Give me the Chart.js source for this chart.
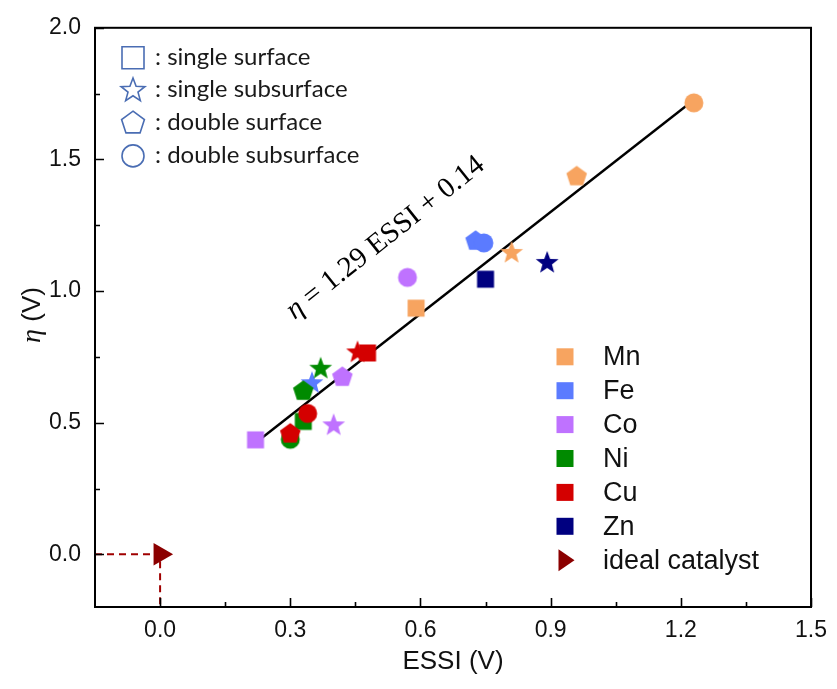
<!DOCTYPE html>
<html>
<head>
<meta charset="utf-8">
<script src="https://cdn.jsdelivr.net/npm/chart.js@4.4.1/dist/chart.umd.min.js"></script>
<style>
  html, body { margin: 0; background: #fff; }
  #c { display: block; }
</style>
</head>
<body>
<canvas id="c" width="837" height="689"></canvas>
<script>
// ── DATA ──
const shapes     = ['square', 'star', 'pentagon', 'circle'];
const shapeNames = [': single surface', ': single subsurface', ': double surface', ': double subsurface'];

const elements      = ['Mn', 'Fe', 'Co', 'Ni', 'Cu', 'Zn'];
const elementColors = ['#F7A460', '#5B7BFF', '#BF72FF', '#008A00', '#D40000', '#000080'];

// ESSI (V) and overpotential (V), listed in `shapes` order; null = no value
const essiMn = [0.59, 0.81, 0.96, 1.23];
const etaMn  = [0.935, 1.145, 1.435, 1.715];
const essiFe = [null, 0.35, 0.727, 0.746];
const etaFe  = [null, 0.65, 1.19, 1.183];
const essiCo = [0.22, 0.40, 0.42, 0.57];
const etaCo  = [0.435, 0.49, 0.673, 1.052];
const essiNi = [0.33, 0.37, 0.33, 0.30];
const etaNi  = [0.505, 0.705, 0.62, 0.437];
const essiCu = [0.478, 0.455, 0.30, 0.34];
const etaCu  = [0.765, 0.767, 0.458, 0.535];
const essiZn = [0.75, 0.892, null, null];
const etaZn  = [1.045, 1.107, null, null];

const idealEssi = [0];
const idealEta  = [0];
const guideEssi = [-0.15, 0, 0];
const guideEta  = [0, 0, -0.2];

// linear fit  eta = 1.29 ESSI + 0.14, end points
const fitEssi = [0.235, 1.215];
const fitEta  = [0.443, 1.707];

const xTicks = [0, 0.3, 0.6, 0.9, 1.2, 1.5];
const xMinor = [0.15, 0.45, 0.75, 1.05, 1.35];
const yTicks = [0, 0.5, 1.0, 1.5, 2.0];
const yMinor = [0.25, 0.75, 1.25, 1.75];

// ── MARKERS ──
const SANS  = "'Liberation Sans', Arial, sans-serif";
const SERIF = "'Liberation Serif', 'Times New Roman', serif";
const DOT = { square: 8.5, circle: 9.5, star: 12, pentagon: 10.8 };
const KEY = { square: 11, circle: 11, star: 12.5, pentagon: 12 };

function shapePath(ctx, shape, cx, cy, r) {
  ctx.beginPath();
  if (shape === 'square') {
    ctx.rect(cx - r, cy - r, 2 * r, 2 * r);
  } else if (shape === 'circle') {
    ctx.arc(cx, cy, r, 0, Math.PI * 2);
  } else if (shape === 'star') {
    const ri = r * 0.42;
    for (let i = 0; i < 10; i++) {
      const rr = i % 2 ? ri : r;
      const a = -Math.PI / 2 + i * Math.PI / 5;
      const px = cx + rr * Math.cos(a), py = cy + rr * Math.sin(a);
      i ? ctx.lineTo(px, py) : ctx.moveTo(px, py);
    }
    ctx.closePath();
  } else if (shape === 'pentagon') {
    for (let i = 0; i < 5; i++) {
      const a = -Math.PI / 2 + i * 2 * Math.PI / 5;
      const px = cx + r * Math.cos(a), py = cy + r * Math.sin(a);
      i ? ctx.lineTo(px, py) : ctx.moveTo(px, py);
    }
    ctx.closePath();
  }
}

const markerCache = {};
function marker(shape, color) {
  const key = shape + color;
  if (markerCache[key]) return markerCache[key];
  const cv = document.createElement('canvas');
  cv.width = cv.height = 28;
  const g = cv.getContext('2d');
  shapePath(g, shape, 14, 14, DOT[shape]);
  g.fillStyle = color;
  g.fill();
  return (markerCache[key] = cv);
}

function points(essi, eta) {
  return shapes.map((s, i) => ({ x: essi[i], y: eta[i], s })).filter(p => p.x != null);
}

const series = [
  [essiMn, etaMn], [essiFe, etaFe], [essiCo, etaCo],
  [essiNi, etaNi], [essiCu, etaCu], [essiZn, etaZn]
];
// Cu on top, then Ni, Fe, Co, Mn, Zn
const drawOrder = { Mn: 6, Fe: 4, Co: 5, Ni: 3, Cu: 2, Zn: 7 };

const datasets = elements.map((name, k) => ({
  label: name,
  data: points(series[k][0], series[k][1]),
  pointStyle: c => marker(c.raw.s, elementColors[k]),
  order: drawOrder[name],
  showLine: false
}));

datasets.push({
  label: 'fit',
  data: fitEssi.map((v, i) => ({ x: v, y: fitEta[i] })),
  showLine: true, borderColor: '#000', borderWidth: 2.4,
  pointRadius: 0, order: 9
});
datasets.push({
  label: 'guide',
  data: guideEssi.map((v, i) => ({ x: v, y: guideEta[i] })),
  showLine: true, borderColor: '#A00000', borderWidth: 2,
  borderDash: [7, 5], pointRadius: 0, order: 1
});
datasets.push({
  label: 'ideal catalyst',
  data: idealEssi.map((v, i) => ({ x: v, y: idealEta[i] })),
  pointStyle: 'triangle', rotation: 90, pointRadius: 13,
  backgroundColor: '#8B0000', borderColor: '#8B0000', borderWidth: 0,
  order: 0
});

// ── FRAME, TICKS, KEYS, LABELS ──
const decorations = {
  id: 'decorations',
  afterDraw(chart) {
    const { ctx, chartArea: a, scales: { x, y } } = chart;
    ctx.save();

    ctx.strokeStyle = '#000';
    ctx.lineWidth = 2;
    ctx.strokeRect(a.left, a.top, a.right - a.left, a.bottom - a.top);

    ctx.lineWidth = 1.6;
    ctx.beginPath();
    const tick = (vals, len, axis) => vals.forEach(v => {
      if (axis === 'x') {
        const px = Math.round(x.getPixelForValue(v)) + 0.5;
        ctx.moveTo(px, a.bottom); ctx.lineTo(px, a.bottom - len);
      } else {
        const py = Math.round(y.getPixelForValue(v)) + 0.5;
        ctx.moveTo(a.left, py); ctx.lineTo(a.left + len, py);
      }
    });
    tick(xTicks, 9, 'x'); tick(xMinor, 5, 'x');
    tick(yTicks, 9, 'y'); tick(yMinor, 5, 'y');
    ctx.stroke();

    // shape key, top left
    ctx.strokeStyle = '#4A6DB3';
    ctx.lineWidth = 1.6;
    ctx.fillStyle = '#1a1a1a';
    ctx.font = "24px Lato, 'Open Sans', sans-serif";
    ctx.textBaseline = 'middle';
    ctx.textAlign = 'left';
    shapes.forEach((s, i) => {
      const cy = a.top + 30 + i * 32.7;
      shapePath(ctx, s, a.left + 38, cy, KEY[s]);
      ctx.stroke();
      ctx.fillText(shapeNames[i], a.left + 60, cy - 1);
    });

    // element key, bottom right
    ctx.font = '27px ' + SANS;
    ctx.fillStyle = '#111';
    const kx = a.left + 470, ky = a.top + 329;
    elements.forEach((name, i) => {
      const cy = ky + i * 33.9;
      ctx.fillStyle = elementColors[i];
      ctx.fillRect(kx - 8.5, cy - 8.5, 17, 17);
      ctx.fillStyle = '#111';
      ctx.fillText(name, kx + 38, cy + 1);
    });
    const ty = ky + 6 * 33.9;
    ctx.fillStyle = '#8B0000';
    ctx.beginPath();
    ctx.moveTo(kx + 9.5, ty);
    ctx.lineTo(kx - 6.5, ty - 11);
    ctx.lineTo(kx - 6.5, ty + 11);
    ctx.closePath();
    ctx.fill();
    ctx.fillStyle = '#111';
    ctx.fillText('ideal catalyst', kx + 38, ty + 1);

    // fit equation along the line
    ctx.save();
    ctx.translate(x.getPixelForValue(0.31), y.getPixelForValue(0.89));
    ctx.rotate(-38.5 * Math.PI / 180);
    ctx.textBaseline = 'alphabetic';
    ctx.fillStyle = '#000';
    ctx.font = 'italic 29px ' + SERIF;
    ctx.fillText('η', 0, 0);
    const w0 = ctx.measureText('η').width;
    ctx.font = '29px ' + SERIF;
    ctx.fillText(' = 1.29 ESSI + 0.14', w0, 0);
    ctx.restore();

    // axis titles
    ctx.fillStyle = '#111';
    ctx.textBaseline = 'middle';
    ctx.font = '26px ' + SANS;
    ctx.textAlign = 'center';
    ctx.fillText('ESSI (V)', (a.left + a.right) / 2, 662);

    ctx.save();
    ctx.translate(33, 315);
    ctx.rotate(-Math.PI / 2);
    ctx.textAlign = 'left';
    ctx.font = 'italic 28px ' + SERIF;
    const wEta = ctx.measureText('η').width;
    ctx.font = '26px ' + SANS;
    const wRest = ctx.measureText(' (V)').width;
    const start = -(wEta + wRest) / 2;
    ctx.font = 'italic 28px ' + SERIF;
    ctx.fillText('η', start, 0);
    ctx.font = '26px ' + SANS;
    ctx.fillText(' (V)', start + wEta, 0);
    ctx.restore();

    ctx.restore();
  }
};

const tickFont = { family: SANS, size: 23 };

new Chart(document.getElementById('c'), {
  type: 'scatter',
  data: { datasets },
  options: {
    responsive: false,
    animation: false,
    layout: { padding: { top: 25, right: 19, left: 0, bottom: 0 } },
    plugins: { legend: { display: false }, tooltip: { enabled: false } },
    scales: {
      x: {
        type: 'linear', min: -0.15, max: 1.5,
        afterFit: s => { s.height = 82; },
        afterBuildTicks: s => { s.ticks = xTicks.map(v => ({ value: v })); },
        grid: { display: false, drawTicks: false },
        border: { display: false },
        ticks: { color: '#111', font: tickFont, padding: 10, maxRotation: 0, autoSkip: false,
                 callback: v => v.toFixed(1) }
      },
      y: {
        type: 'linear', min: -0.2, max: 2.0,
        afterFit: s => { s.width = 95; },
        afterBuildTicks: s => { s.ticks = yTicks.map(v => ({ value: v })); },
        grid: { display: false, drawTicks: false },
        border: { display: false },
        ticks: { color: '#111', font: tickFont, padding: 14, autoSkip: false,
                 callback: v => v.toFixed(1) }
      }
    }
  },
  plugins: [decorations]
});
</script>
</body>
</html>
